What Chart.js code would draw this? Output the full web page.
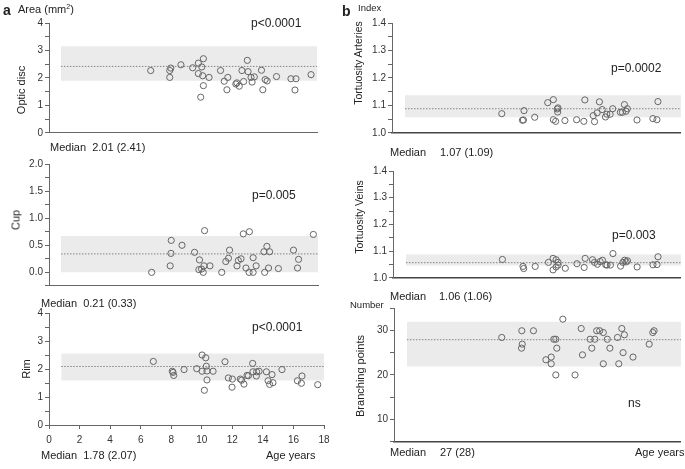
<!DOCTYPE html>
<html>
<head>
<meta charset="utf-8">
<script src="https://cdn.jsdelivr.net/npm/chart.js@4.4.0/dist/chart.umd.min.js"></script>
<style>
  body { margin: 0; background: #fff; width: 685px; height: 469px; position: relative; overflow: hidden;
         font-family: "Liberation Sans", Arial, sans-serif; color: #222; }
  canvas { position: absolute; }
  .t { position: absolute; white-space: nowrap; line-height: 1; transform: translateY(-50%); font-size: 11px; }
  .r { position: absolute; white-space: nowrap; line-height: 1; transform: translate(-50%, -50%) rotate(-90deg); font-size: 11px; }
  .p { font-size: 12px; }
  .big { font-size: 14px; font-weight: bold; }
</style>
</head>
<body>

<canvas id="c-disc" width="330" height="127" style="left:0;top:10px"></canvas>
<canvas id="c-cup" width="330" height="140" style="left:0;top:150px"></canvas>
<canvas id="c-rim" width="336" height="145" style="left:0;top:300px"></canvas>
<canvas id="c-art" width="340" height="127" style="left:345px;top:10px"></canvas>
<canvas id="c-vein" width="340" height="124" style="left:345px;top:158px"></canvas>
<canvas id="c-branch" width="340" height="151" style="left:345px;top:295px"></canvas>

<div class="t big" style="left:3px;top:10px">a</div>
<div class="t" style="left:18px;top:9px">Area (mm<sup style="font-size:7px">2</sup>)</div>
<div class="t p" style="left:251px;top:23px">p&lt;0.0001</div>
<div class="r" style="left:21px;top:90px">Optic disc</div>
<div class="t" style="left:50px;top:147px">Median&nbsp; 2.01 (2.41)</div>

<div class="r" style="left:16px;top:220px">Cup</div>
<div class="t p" style="left:252px;top:195px">p=0.005</div>
<div class="t" style="left:41px;top:303px">Median&nbsp; 0.21 (0.33)</div>

<div class="r" style="left:26px;top:369px">Rim</div>
<div class="t p" style="left:252px;top:327px">p&lt;0.0001</div>
<div class="t" style="left:41px;top:455px">Median&nbsp; 1.78 (2.07)</div>
<div class="t" style="left:266px;top:455px">Age years</div>

<div class="t big" style="left:342px;top:11px">b</div>
<div class="t" style="left:358px;top:8px;font-size:9.5px">Index</div>
<div class="r" style="left:358px;top:63px;font-size:10.5px">Tortuosity Arteries</div>
<div class="t p" style="left:611px;top:68px">p=0.0002</div>
<div class="t" style="left:390px;top:152px">Median</div>
<div class="t" style="left:440px;top:152px">1.07 (1.09)</div>

<div class="r" style="left:359px;top:217px;font-size:10.5px">Tortuosity Veins</div>
<div class="t p" style="left:612px;top:235px">p=0.003</div>
<div class="t" style="left:390px;top:296px">Median</div>
<div class="t" style="left:439px;top:296px">1.06 (1.06)</div>

<div class="t" style="left:350px;top:305px;font-size:9.5px">Number</div>
<div class="r" style="left:360px;top:376px">Branching points</div>
<div class="t p" style="left:628px;top:403px">ns</div>
<div class="t" style="left:390px;top:452px">Median</div>
<div class="t" style="left:440px;top:452px">27 (28)</div>
<div class="t" style="left:635px;top:452px">Age years</div>

<script>
// panel a: optic disc, cup, rim area (mm2) against age
const ageDisc = [6.83, 8.11, 8.11, 8.18, 8.86, 9.65, 10.03, 10.03, 10.26, 10.37, 10.32, 10.37, 10.19, 10.75, 11.52, 11.77, 11.95, 12.01, 12.55, 12.62, 12.78, 12.96, 13.07, 13.32, 13.37, 13.57, 13.64, 13.79, 14.27, 14.36, 14.52, 14.65, 15.28, 16.25, 16.59, 16.52, 17.60]
const disc = [2.27, 2.02, 2.27, 2.36, 2.48, 2.37, 2.54, 2.16, 2.40, 2.70, 2.08, 1.72, 1.30, 2.02, 2.27, 1.88, 1.57, 2.02, 1.78, 1.82, 1.70, 2.27, 1.87, 2.64, 2.23, 2.02, 1.85, 2.04, 2.28, 1.57, 1.94, 1.89, 2.05, 1.97, 1.97, 1.56, 2.12]

const ageCup = [6.87, 8.11, 8.16, 8.18, 8.90, 9.74, 10.07, 10.03, 10.21, 10.32, 10.37, 10.41, 10.77, 11.56, 11.83, 12.01, 12.08, 12.58, 12.67, 12.85, 13.00, 13.18, 13.39, 13.41, 13.66, 13.66, 13.86, 14.38, 14.43, 14.58, 14.69, 14.76, 15.35, 16.36, 16.63, 16.70, 17.69]
const cup = [0.00, 0.12, 0.35, 0.59, 0.50, 0.37, 0.23, 0.05, 0.06, 0.00, 0.12, 0.77, 0.12, 0.00, 0.20, 0.26, 0.41, 0.12, 0.22, 0.25, 0.71, 0.08, 0.00, 0.75, 0.27, 0.00, 0.12, 0.38, 0.00, 0.48, 0.08, 0.38, 0.07, 0.41, 0.08, 0.24, 0.70]

const ageRim = [6.83, 8.07, 8.12, 8.16, 8.84, 9.67, 10.02, 10.02, 10.26, 10.30, 10.34, 10.34, 10.17, 10.74, 11.52, 11.74, 11.98, 12.00, 12.52, 12.61, 12.76, 12.96, 13.05, 13.33, 13.35, 13.57, 13.59, 13.75, 14.23, 14.34, 14.44, 14.60, 14.66, 15.25, 16.26, 16.52, 16.56, 17.59]
const rim = [2.27, 1.92, 1.88, 1.77, 1.98, 2.01, 2.50, 1.92, 2.40, 2.10, 1.93, 1.61, 1.24, 1.92, 2.26, 1.68, 1.35, 1.64, 1.64, 1.60, 1.46, 1.77, 1.76, 2.20, 1.90, 1.75, 1.90, 1.92, 1.90, 1.58, 1.45, 1.80, 1.51, 1.98, 1.58, 1.49, 1.75, 1.44]

// panel b: vessel tortuosity index and branching points
const ageArt = [6.80, 8.23, 8.30, 8.34, 9.08, 9.98, 10.37, 10.37, 10.53, 10.69, 10.67, 10.64, 11.17, 11.98, 12.48, 12.55, 13.13, 13.22, 13.40, 13.56, 13.75, 13.98, 14.07, 14.30, 14.48, 15.01, 15.15, 15.29, 15.40, 15.49, 16.16, 17.26, 17.54, 17.61]
const art = [1.070, 1.046, 1.047, 1.081, 1.057, 1.110, 1.121, 1.048, 1.042, 1.091, 1.076, 1.087, 1.045, 1.048, 1.042, 1.120, 1.063, 1.041, 1.073, 1.113, 1.085, 1.058, 1.068, 1.068, 1.088, 1.075, 1.075, 1.103, 1.079, 1.088, 1.047, 1.052, 1.048, 1.114]

const ageVein = [6.80, 8.23, 8.28, 9.08, 10.00, 10.32, 10.32, 10.53, 10.53, 10.67, 10.67, 11.17, 11.98, 12.48, 12.55, 13.06, 13.20, 13.40, 13.59, 13.75, 13.98, 14.07, 14.30, 14.48, 15.01, 15.17, 15.29, 15.40, 15.49, 16.16, 17.26, 17.54, 17.61]
const vein = [1.069, 1.043, 1.035, 1.043, 1.058, 1.073, 1.030, 1.068, 1.041, 1.058, 1.048, 1.036, 1.053, 1.039, 1.073, 1.068, 1.058, 1.051, 1.061, 1.066, 1.049, 1.048, 1.048, 1.091, 1.044, 1.058, 1.066, 1.060, 1.064, 1.041, 1.049, 1.050, 1.079]

const ageBranch = [6.71, 8.11, 8.14, 8.09, 8.92, 9.79, 10.16, 10.16, 10.34, 10.48, 10.48, 10.55, 10.97, 11.82, 12.25, 12.34, 12.87, 12.99, 13.20, 13.33, 13.54, 13.79, 13.79, 14.07, 14.25, 14.78, 14.87, 15.08, 15.17, 15.26, 15.86, 16.99, 17.24, 17.33]
const branch = [28.4, 29.9, 26.9, 26.0, 29.9, 23.4, 24.0, 22.5, 28.0, 28.0, 20.0, 26.0, 32.5, 20.0, 30.4, 24.5, 28.0, 26.0, 28.0, 29.9, 29.9, 29.5, 22.5, 28.0, 26.0, 28.4, 22.5, 30.4, 25.0, 29.0, 24.0, 26.9, 29.5, 29.9]

// reference range (low, high), median line and age span of the grey band
const discBand = [1.90, 3.15], discMedian = 2.42
const cupBand = [0.00, 0.67], cupMedian = 0.34
const rimBand = [1.59, 2.55], rimMedian = 2.09
const artBand = [1.057, 1.137], artMedian = 1.088
const veinBand = [1.046, 1.088], veinMedian = 1.057
const branchBand = [21.9, 31.9], branchMedian = 27.9
const bandAgeA = [0.8, 18]
const bandAgeB = [0.1, 19.2]

// tick labels
const discTicks = [0, 1, 2, 3, 4]
const cupTicks = [0, 0.5, 1, 1.5, 2]
const rimTicks = [0, 1, 2, 3, 4]
const ageTicks = [0, 2, 4, 6, 8, 10, 12, 14, 16, 18]
const tortTicks = [1.0, 1.1, 1.2, 1.3, 1.4]
const branchTicks = [10, 20, 30]

Chart.defaults.font.family = "'Liberation Sans', Arial, sans-serif"
Chart.defaults.font.size = 10
Chart.defaults.color = "#333"

function hasLabel(list, v) {
  return list.some(l => Math.abs(l - v) < 1e-6)
}

function noPad(s) {
  s.paddingLeft = 0
  s.paddingRight = 0
  s.paddingTop = 0
  s.paddingBottom = 0
}

function panel(id, o) {
  const pts = o.ages.map((a, i) => ({ x: a, y: o.vals[i] }))
  const seg = y => [{ x: o.bandAge[0], y }, { x: o.bandAge[1], y }]

  new Chart(document.getElementById(id), {
    type: "scatter",
    data: {
      datasets: [
        { data: pts, order: 0, pointRadius: 3.1, pointHoverRadius: 3.1, borderColor: "#666", borderWidth: 1, backgroundColor: "rgba(0,0,0,0)" },
        { type: "line", data: seg(o.median), order: 1, borderColor: "#858585", borderWidth: 1, borderDash: [1.5, 1.5], pointRadius: 0, fill: false },
        { type: "line", data: seg(o.band[1]), order: 2, borderColor: "rgba(0,0,0,0)", borderWidth: 0, pointRadius: 0, fill: false },
        { type: "line", data: seg(o.band[0]), order: 3, borderColor: "rgba(0,0,0,0)", borderWidth: 0, pointRadius: 0, fill: "-1", backgroundColor: "#ebebeb" }
      ]
    },
    options: {
      responsive: false,
      animation: false,
      events: [],
      layout: { padding: o.pad },
      plugins: { legend: { display: false }, tooltip: { enabled: false } },
      scales: {
        x: {
          type: "linear",
          min: o.xMin,
          max: o.xMax,
          grid: { display: !!o.xTicks, drawOnChartArea: false, tickLength: 4, color: "#666" },
          border: { display: true, color: o.xColor || "#666", width: o.xWidth || 1 },
          ticks: {
            display: !!o.xTicks,
            stepSize: 2,
            padding: 5,
            maxRotation: 0,
            autoSkip: false,
            callback: v => (o.xTicks && hasLabel(o.xTicks, v)) ? String(v) : ""
          },
          afterFit: s => { s.height = o.xH; noPad(s) }
        },
        y: {
          min: o.yMin,
          max: o.yMax,
          grid: { drawOnChartArea: false, tickLength: 4, color: "#666" },
          border: { display: true, color: "#666", width: 1 },
          ticks: {
            stepSize: o.yStep,
            padding: 2,
            autoSkip: false,
            callback: v => hasLabel(o.yTicks, v) ? v.toFixed(o.dec) : ""
          },
          afterFit: s => { s.width = o.yW; noPad(s) }
        }
      }
    }
  })
}

panel("c-disc", {
  ages: ageDisc, vals: disc, band: discBand, median: discMedian, bandAge: bandAgeA,
  xMin: 0, xMax: 18, yMin: 0, yMax: 4, yStep: 0.5, yTicks: discTicks, dec: 0,
  yW: 49, xH: 0, pad: { left: 0, right: 13, top: 13, bottom: 4 }
})

panel("c-cup", {
  ages: ageCup, vals: cup, band: cupBand, median: cupMedian, bandAge: bandAgeA,
  xMin: 0, xMax: 18, yMin: -0.25, yMax: 2, yStep: 0.25, yTicks: cupTicks, dec: 1,
  yW: 49, xH: 0, pad: { left: 0, right: 12, top: 14, bottom: 4 }
})

panel("c-rim", {
  ages: ageRim, vals: rim, band: rimBand, median: rimMedian, bandAge: bandAgeA,
  xMin: 0, xMax: 18, xTicks: ageTicks, yMin: 0, yMax: 4, yStep: 0.5, yTicks: rimTicks, dec: 0,
  yW: 49, xH: 20, pad: { left: 0, right: 12, top: 13, bottom: 0 }
})

panel("c-art", {
  ages: ageArt, vals: art, band: artBand, median: artMedian, bandAge: bandAgeB,
  xMin: -0.8, xMax: 19.2, yMin: 1.0, yMax: 1.4, yStep: 0.05, yTicks: tortTicks, dec: 1,
  xColor: "#444", xWidth: 1.5,
  yW: 47, xH: 0, pad: { left: 0, right: 2, top: 13, bottom: 4 }
})

panel("c-vein", {
  ages: ageVein, vals: vein, band: veinBand, median: veinMedian, bandAge: bandAgeB,
  xMin: -0.8, xMax: 19.2, yMin: 1.0, yMax: 1.4, yStep: 0.05, yTicks: tortTicks, dec: 1,
  xColor: "#444", xWidth: 1.5,
  yW: 48, xH: 0, pad: { left: 0, right: 2, top: 13, bottom: 4 }
})

panel("c-branch", {
  ages: ageBranch, vals: branch, band: branchBand, median: branchMedian, bandAge: bandAgeB,
  xMin: -0.8, xMax: 19.2, yMin: 5, yMax: 35, yStep: 5, yTicks: branchTicks, dec: 0,
  xColor: "#444", xWidth: 1.5,
  yW: 49, xH: 0, pad: { left: 0, right: 2, top: 13, bottom: 4 }
})
</script>
</body>
</html>
